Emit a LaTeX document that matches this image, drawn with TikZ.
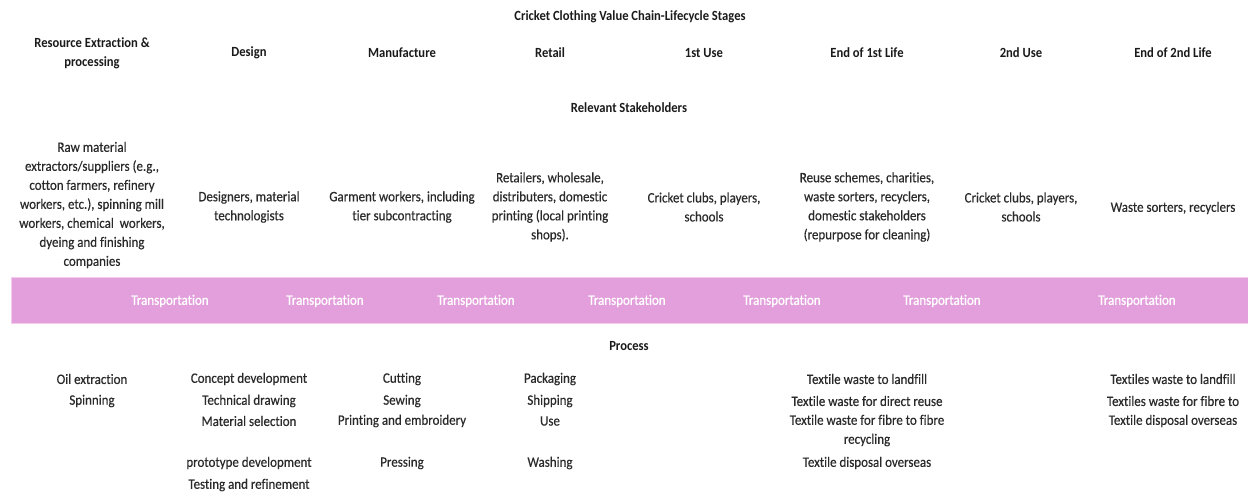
\documentclass[tikz,border=0pt]{standalone}
\usepackage{fontspec}
\setmainfont{Carlito}[FakeStretch=0.9,Ligatures=NoCommon]
% slightly heavier cuts for body copy and the band labels
\newfontfamily\bodyfont{Carlito}[FakeStretch=0.9,FakeBold=0.35,Ligatures=NoCommon]
\newfontfamily\bandfont{Carlito}[FakeStretch=0.9,FakeBold=0.8,Ligatures=NoCommon]
\definecolor{bodytxt}{HTML}{2A2A2A}
\definecolor{headtxt}{HTML}{1A1A1A}
\definecolor{bandfill}{HTML}{E39FDB}
\definecolor{bandedge}{HTML}{F2CDEE}
\definecolor{bandtxt}{HTML}{FFFFFF}
\begin{document}
\begin{tikzpicture}[x=1pt,y=-1pt,
  headlbl/.style={font=\fontsize{14}{19}\selectfont\bfseries,text=headtxt,align=center,inner sep=0pt},
  bodylbl/.style={font=\bodyfont\fontsize{14.4}{19}\selectfont,text=bodytxt,align=center,inner sep=0pt},
  translbl/.style={font=\bandfont\fontsize{14.4}{19}\selectfont,text=bandtxt,inner sep=0pt},
  band/.style={fill=bandfill,draw=bandedge,line width=0.8pt}]
\useasboundingbox[fill=white] (0,0) rectangle (1248,492);

% title and lifecycle stages
\node[headlbl] (title) at (630,17) {Cricket Clothing Value Chain-Lifecycle Stages};
\node[headlbl] (sRes)  at (92,53.5) {Resource Extraction \&\\processing};
\node[headlbl] (sDes)  at (249,53) {Design};
\node[headlbl] (sMan)  at (402,53) {Manufacture};
\node[headlbl] (sRet)  at (550,53) {Retail};
\node[headlbl] (sU1)   at (704,53) {1st Use};
\node[headlbl] (sE1)   at (867,53) {End of 1st Life};
\node[headlbl] (sU2)   at (1021,53) {2nd Use};
\node[headlbl] (sE2)   at (1173,53) {End of 2nd Life};

% stakeholders
\node[headlbl] (stake) at (629,108) {Relevant Stakeholders};
\node[bodylbl] (kRes) at (92,205) {Raw material\\extractors/suppliers (e.g.,\\cotton farmers, refinery\\workers, etc.), spinning mill\\workers, chemical\ \ workers,\\dyeing and finishing\\companies};
\node[bodylbl] (kDes) at (249,207) {Designers, material\\technologists};
\node[bodylbl] (kMan) at (402,207) {Garment workers, including\\tier subcontracting};
\node[bodylbl] (kRet) at (550,207) {Retailers, wholesale,\\distributers, domestic\\printing (local printing\\shops).};
\node[bodylbl] (kU1)  at (704,207) {Cricket clubs, players,\\schools};
\node[bodylbl] (kE1)  at (867,207) {Reuse schemes, charities,\\waste sorters, recyclers,\\domestic stakeholders\\(repurpose for cleaning)};
\node[bodylbl] (kU2)  at (1021,207) {Cricket clubs, players,\\schools};
\node[bodylbl] (kE2)  at (1173,208) {Waste sorters, recyclers};

% transportation band
\path[band] (11,277.5) rectangle (1252,323.5);
\node[translbl] (t1) at (170,301) {Transportation};
\node[translbl] (t2) at (325,301) {Transportation};
\node[translbl] (t3) at (476,301) {Transportation};
\node[translbl] (t4) at (627,301) {Transportation};
\node[translbl] (t5) at (782,301) {Transportation};
\node[translbl] (t6) at (942,301) {Transportation};
\node[translbl] (t7) at (1137,301) {Transportation};

% processes
\node[headlbl] (proc) at (629,346) {Process};

\node[bodylbl] (pRes1) at (92,379) {Oil extraction};
\node[bodylbl] (pRes2) at (92,401) {Spinning};

\node[bodylbl] (pDes1) at (249,379) {Concept development};
\node[bodylbl] (pDes2) at (249,401) {Technical drawing};
\node[bodylbl] (pDes3) at (249,421) {Material selection};
\node[bodylbl] (pDes4) at (249,463) {prototype development};
\node[bodylbl] (pDes5) at (249,485) {Testing and refinement};

\node[bodylbl] (pMan1) at (402,379) {Cutting};
\node[bodylbl] (pMan2) at (402,401) {Sewing};
\node[bodylbl] (pMan3) at (402,421) {Printing and embroidery};
\node[bodylbl] (pMan4) at (402,463) {Pressing};

\node[bodylbl] (pRet1) at (550,379) {Packaging};
\node[bodylbl] (pRet2) at (550,401) {Shipping};
\node[bodylbl] (pRet3) at (550,421) {Use};
\node[bodylbl] (pRet4) at (550,463) {Washing};

\node[bodylbl] (pE1a) at (867,379) {Textile waste to landfill};
\node[bodylbl] (pE1b) at (867,401) {Textile waste for direct reuse};
\node[bodylbl] (pE1c) at (867,430.5) {Textile waste for fibre to fibre\\recycling};
\node[bodylbl] (pE1d) at (867,463) {Textile disposal overseas};

\node[bodylbl] (pE2a) at (1173,379) {Textiles waste to landfill};
\node[bodylbl] (pE2b) at (1173,401) {Textiles waste for fibre to};
\node[bodylbl] (pE2c) at (1173,421) {Textile disposal overseas};
\end{tikzpicture}
\end{document}
